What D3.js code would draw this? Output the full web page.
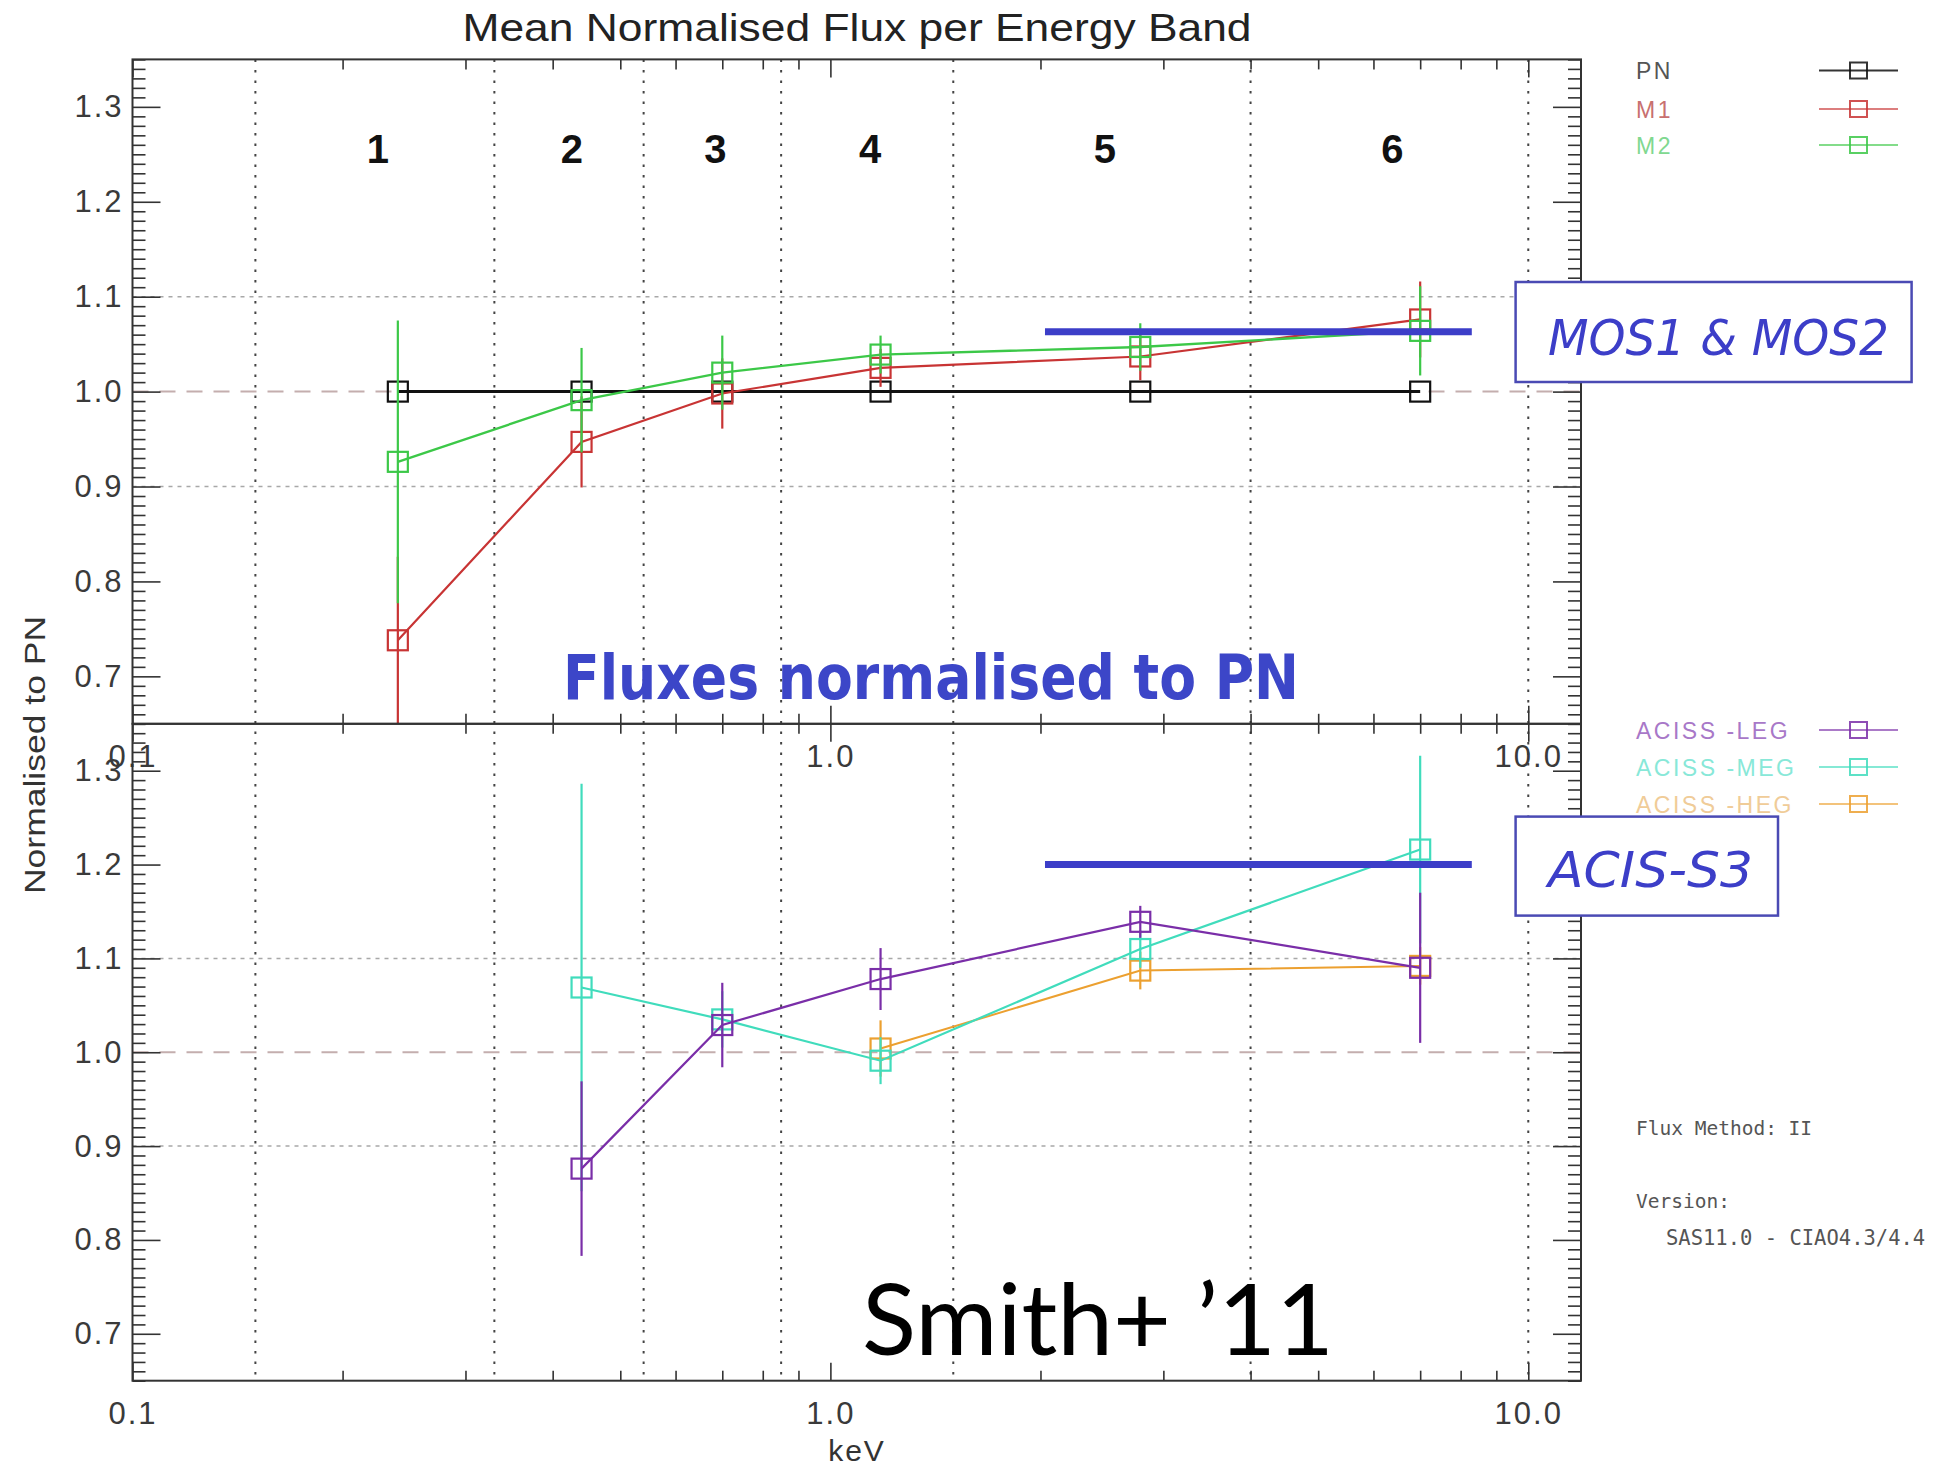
<!DOCTYPE html>
<html><head><meta charset="utf-8">
<script src="https://cdn.jsdelivr.net/npm/d3@7/dist/d3.min.js"></script>
<style>body{margin:0;background:#fff}svg{display:block}</style>
</head><body><svg id="c" width="1940" height="1467" font-family="'Liberation Sans', Arial, sans-serif"></svg>
<script>
// ---------- data ----------
const energies = [0.24, 0.44, 0.70, 1.18, 2.78, 7.0];
const bandLabels = ["1", "2", "3", "4", "5", "6"];
const bandEdges = [0.15, 0.33, 0.54, 0.85, 1.5, 4.0, 10.0];
const pnValues = [1.0, 1.0, 1.0, 1.0, 1.0, 1.0];
const pnErr = [0, 0, 0, 0, 0, 0];
const m1Values = [0.738, 0.947, 0.998, 1.025, 1.037, 1.076];
const m1Err = [0.088, 0.048, 0.037, 0.02, 0.025, 0.04];
const m2Values = [0.926, 0.991, 1.020, 1.039, 1.047, 1.064];
const m2Err = [0.149, 0.055, 0.039, 0.02, 0.025, 0.047];
const legValues = [null, 0.876, 1.029, 1.078, 1.139, 1.090];
const legErr = [null, 0.093, 0.045, 0.033, 0.017, 0.08];
const megValues = [null, 1.069, 1.035, 0.991, 1.110, 1.216];
const megErr = [null, 0.217, 0.03, 0.025, 0.02, 0.10];
const hegValues = [null, null, null, 1.004, 1.087, 1.092];
const hegErr = [null, null, null, 0.03, 0.02, 0.02];
const xTickValues = [0.1, 1, 10];
const xTickLabels = ["0.1", "1.0", "10.0"];
const yTickValues = [0.7, 0.8, 0.9, 1.0, 1.1, 1.2, 1.3];
const yTickLabels = ["0.7", "0.8", "0.9", "1.0", "1.1", "1.2", "1.3"];
const gridValues = [0.9, 1.1];
const refValue = 1.0;
const mosBand = [2.03, 8.3], mosLevel = 1.063;
const acisBand = [2.03, 8.3], acisLevel = 1.2;

// ---------- layout ----------
const svg = d3.select("#c");
const L = 132.5, R = 1581;
const panels = [{top: 59.4, bottom: 723.8}, {top: 723.8, bottom: 1380.7}];
const x = d3.scaleLog().domain([0.1, 11.9]).range([L, R]);
panels.forEach(p => p.y = d3.scaleLinear().domain([0.65, 1.35]).range([p.bottom, p.top]));

const topSeries = [
  {name: "PN", vals: pnValues, err: pnErr, color: "#111", lw: 3, text: "#555"},
  {name: "M1", vals: m1Values, err: m1Err, color: "#c83434", lw: 2.2, text: "#c87070"},
  {name: "M2", vals: m2Values, err: m2Err, color: "#3cc848", lw: 2.4, text: "#80d890"}
];
const bottomSeries = [
  {name: "ACISS -HEG", vals: hegValues, err: hegErr, color: "#eca030", lw: 2, text: "#f0cc98", leg: 2},
  {name: "ACISS -MEG", vals: megValues, err: megErr, color: "#40dcbc", lw: 2.2, text: "#88e8d8", leg: 1},
  {name: "ACISS -LEG", vals: legValues, err: legErr, color: "#7a2ea8", lw: 2.2, text: "#a878c8", leg: 0}
];

const defs = svg.append("defs");
panels.forEach((p, i) => defs.append("clipPath").attr("id", "clip" + i)
  .append("rect").attr("x", L).attr("y", p.top).attr("width", R - L).attr("height", p.bottom - p.top));

// ---------- grid ----------
panels.forEach((p, i) => {
  const g = svg.append("g");
  g.selectAll("line.h").data(gridValues).join("line")
    .attr("x1", L).attr("x2", R).attr("y1", d => p.y(d)).attr("y2", d => p.y(d))
    .attr("stroke", "#a8a8a8").attr("stroke-width", 1.5).attr("stroke-dasharray", "4,5");
  g.append("line").attr("x1", L).attr("x2", R).attr("y1", p.y(refValue)).attr("y2", p.y(refValue))
    .attr("stroke", "#c4aeae").attr("stroke-width", 2).attr("stroke-dasharray", "16,11");
});
svg.append("g").selectAll("line").data(bandEdges).join("line")
  .attr("x1", d => x(d)).attr("x2", d => x(d)).attr("y1", panels[0].top).attr("y2", panels[1].bottom)
  .attr("stroke", "#444").attr("stroke-width", 2).attr("stroke-dasharray", "2.5,8");

// ---------- series ----------
function drawSeries(series, p, i) {
  const g = svg.append("g").attr("clip-path", `url(#clip${i})`);
  series.forEach(s => {
    const pts = energies.map((e, k) => ({e, v: s.vals[k], err: s.err[k]})).filter(d => d.v != null);
    g.append("path").datum(pts)
      .attr("d", d3.line().x(d => x(d.e)).y(d => p.y(d.v)))
      .attr("fill", "none").attr("stroke", s.color).attr("stroke-width", s.lw);
    g.selectAll(null).data(pts.filter(d => d.err > 0)).join("line")
      .attr("x1", d => x(d.e)).attr("x2", d => x(d.e))
      .attr("y1", d => p.y(d.v - d.err)).attr("y2", d => p.y(d.v + d.err))
      .attr("stroke", s.color).attr("stroke-width", 2.2);
    g.selectAll(null).data(pts).join("rect")
      .attr("x", d => x(d.e) - 10).attr("y", d => p.y(d.v) - 10)
      .attr("width", 20).attr("height", 20)
      .attr("fill", "none").attr("stroke", s.color).attr("stroke-width", 2.2);
  });
}
drawSeries(topSeries, panels[0], 0);
drawSeries(bottomSeries, panels[1], 1);

// ---------- axes ----------
const minorY = d3.range(65, 136).map(v => v / 100).filter(v => !yTickValues.some(t => Math.abs(t - v) < 1e-9));
const allX = x.ticks();
const minorX = allX.filter(v => !xTickValues.some(t => Math.abs(t - v) < 1e-9));
function styleAxis(g) {
  g.select(".domain").remove();
  g.selectAll("line").attr("stroke", "#333").attr("stroke-width", 1.6);
  g.attr("font-family", "'Liberation Sans', Arial, sans-serif").attr("font-size", 31)
   .attr("color", "#333");
  g.selectAll("text").attr("fill", "#3a3a3a").style("letter-spacing", "2px");
}
panels.forEach((p, i) => {
  svg.append("g").attr("transform", `translate(${L},0)`)
    .call(d3.axisLeft(p.y).tickValues(minorY).tickSize(-13).tickFormat("")).call(styleAxis);
  svg.append("g").attr("transform", `translate(${L},0)`)
    .call(d3.axisLeft(p.y).tickValues(yTickValues).tickSize(-28).tickPadding(9)
      .tickFormat((d, k) => yTickLabels[k])).call(styleAxis);
  svg.append("g").attr("transform", `translate(${R},0)`)
    .call(d3.axisRight(p.y).tickValues(minorY).tickSize(-13).tickFormat("")).call(styleAxis);
  svg.append("g").attr("transform", `translate(${R},0)`)
    .call(d3.axisRight(p.y).tickValues(yTickValues).tickSize(-28).tickFormat("")).call(styleAxis);
  svg.append("g").attr("transform", `translate(0,${p.top})`)
    .call(d3.axisTop(x).tickValues(minorX).tickSize(-10).tickFormat("")).call(styleAxis);
  svg.append("g").attr("transform", `translate(0,${p.top})`)
    .call(d3.axisTop(x).tickValues(xTickValues).tickSize(-18).tickFormat("")).call(styleAxis);
  svg.append("g").attr("transform", `translate(0,${p.bottom})`)
    .call(d3.axisBottom(x).tickValues(minorX).tickSize(-10).tickFormat("")).call(styleAxis);
  svg.append("g").attr("transform", `translate(0,${p.bottom})`)
    .call(d3.axisBottom(x).tickValues(xTickValues).tickSize(-18).tickPadding(21)
      .tickFormat((d, k) => xTickLabels[k])).call(styleAxis);
  svg.append("rect").attr("x", L).attr("y", p.top).attr("width", R - L).attr("height", p.bottom - p.top)
    .attr("fill", "none").attr("stroke", "#333").attr("stroke-width", 2);
});

// ---------- band labels ----------
svg.append("g").selectAll("text").data(bandLabels).join("text")
  .attr("x", (d, k) => x(Math.sqrt(bandEdges[k] * bandEdges[k + 1])) + 3)
  .attr("y", 163).attr("text-anchor", "middle")
  .attr("font-size", 40).attr("font-weight", "bold").attr("fill", "#111").text(d => d);

// ---------- titles ----------
svg.append("text").attr("x", 857).attr("y", 41).attr("text-anchor", "middle")
  .attr("font-size", 39).attr("fill", "#222")
  .attr("textLength", 789).attr("lengthAdjust", "spacingAndGlyphs")
  .text("Mean Normalised Flux per Energy Band");
svg.append("text").attr("transform", "translate(45,755) rotate(-90)").attr("text-anchor", "middle")
  .attr("font-size", 30).attr("fill", "#333")
  .attr("textLength", 278).attr("lengthAdjust", "spacingAndGlyphs")
  .text("Normalised to PN");
svg.append("text").attr("x", 857).attr("y", 1461).attr("text-anchor", "middle")
  .attr("font-size", 30).attr("fill", "#333").style("letter-spacing", "2px").text("keV");

// ---------- legends ----------
function legend(items, ys) {
  items.forEach((s, k) => {
    const yy = ys[k];
    svg.append("text").attr("x", 1636).attr("y", yy + 8.5).attr("font-size", 23)
      .style("letter-spacing", "2.5px").attr("fill", s.text).text(s.name);
    svg.append("line").attr("x1", 1819).attr("x2", 1898).attr("y1", yy).attr("y2", yy)
      .attr("stroke", s.color).attr("stroke-width", s.name === "PN" ? 2.2 : 1.6).attr("stroke-opacity", 0.85);
    svg.append("rect").attr("x", 1850).attr("y", yy - 8).attr("width", 17).attr("height", 16)
      .attr("fill", "none").attr("stroke", s.color).attr("stroke-width", 2).attr("stroke-opacity", 0.85);
  });
}
legend(topSeries, [70.5, 109, 145]);
legend(bottomSeries.slice().sort((a, b) => a.leg - b.leg), [730, 767, 804]);

const mono = "'DejaVu Sans Mono', monospace";
svg.append("text").attr("x", 1636).attr("y", 1135).attr("font-family", mono)
  .attr("font-size", 19.5).attr("fill", "#555").text("Flux Method: II");
svg.append("text").attr("x", 1636).attr("y", 1208).attr("font-family", mono)
  .attr("font-size", 19.5).attr("fill", "#555").text("Version:");
svg.append("text").attr("x", 1666).attr("y", 1245).attr("font-family", mono)
  .attr("font-size", 20.5).attr("fill", "#555").style("white-space", "pre").text("SAS11.0 - CIAO4.3/4.4");

// ---------- annotations ----------
const blue = "#3c3ec8";
svg.append("line").attr("x1", x(mosBand[0])).attr("x2", x(mosBand[1]))
  .attr("y1", panels[0].y(mosLevel)).attr("y2", panels[0].y(mosLevel))
  .attr("stroke", blue).attr("stroke-width", 7);
svg.append("line").attr("x1", x(acisBand[0])).attr("x2", x(acisBand[1]))
  .attr("y1", panels[1].y(acisLevel)).attr("y2", panels[1].y(acisLevel))
  .attr("stroke", blue).attr("stroke-width", 7);

const sans = "'DejaVu Sans', sans-serif";
svg.append("rect").attr("x", 1515.6).attr("y", 282).attr("width", 396).attr("height", 100)
  .attr("fill", "#fff").attr("stroke", "#4a4ab4").attr("stroke-width", 2.5);
svg.append("text").attr("x", 1548).attr("y", 355).attr("font-family", sans)
  .attr("font-style", "italic").attr("font-size", 50).attr("fill", blue)
  .attr("textLength", 341).attr("lengthAdjust", "spacingAndGlyphs").text("MOS1 & MOS2");
svg.append("rect").attr("x", 1515.6).attr("y", 816.6).attr("width", 262.4).attr("height", 99)
  .attr("fill", "#fff").attr("stroke", "#4a4ab4").attr("stroke-width", 2.5);
svg.append("text").attr("x", 1548).attr("y", 887).attr("font-family", sans)
  .attr("font-style", "italic").attr("font-size", 50).attr("fill", blue)
  .attr("textLength", 205).attr("lengthAdjust", "spacingAndGlyphs").text("ACIS-S3");

svg.append("text").attr("x", 563).attr("y", 699).attr("font-family", sans)
  .attr("font-weight", "bold").attr("font-size", 62).attr("fill", "#3c46c8")
  .attr("textLength", 736).attr("lengthAdjust", "spacingAndGlyphs").text("Fluxes normalised to PN");
svg.append("text").attr("x", 862).attr("y", 1355).attr("font-family", "Lato, sans-serif")
  .attr("font-size", 98).attr("fill", "#000")
  .attr("textLength", 472).attr("lengthAdjust", "spacingAndGlyphs").text("Smith+ \u201911");
</script></body></html>
